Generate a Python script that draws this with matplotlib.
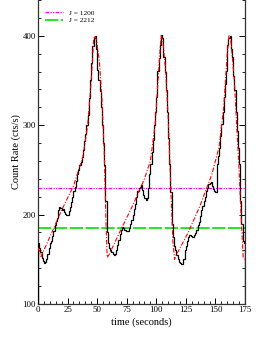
import numpy as np
import matplotlib
matplotlib.use("Agg")
import matplotlib.pyplot as plt

plt.rcParams['font.family'] = ['Liberation Serif', 'DejaVu Serif']

# observed light curve, 1 s bins starting at t = 0
obs_rate = [168, 163, 158, 152, 148, 146, 147, 150, 156, 163, 168,
            171, 176, 182, 188, 193, 196, 205, 208, 207, 205,
            206, 203, 201, 199, 200, 204, 208, 214, 220, 226,
            231, 238, 245, 250, 255, 259, 264, 272, 282, 290,
            300, 311, 330, 350, 370, 388, 398, 400, 385, 362,
            350, 338, 320, 300, 280, 255, 215, 180, 168, 163,
            160, 158, 156, 155, 156, 160, 166, 172, 178, 183,
            186, 185, 183, 182, 182, 182, 185, 190, 194, 200,
            206, 212, 220, 226, 230, 231, 233, 228, 222, 218,
            216, 218, 230, 245, 257, 270, 283, 300, 315, 331,
            361, 375, 390, 401, 398, 376, 360, 339, 315, 286,
            257, 225, 190, 175, 165, 160, 155, 150, 147, 146,
            145, 145, 150, 160, 165, 171, 175, 177, 176, 175,
            175, 177, 179, 183, 188, 192, 198, 205, 210, 215,
            220, 226, 230, 234, 235, 236, 232, 229, 226, 225,
            257, 265, 275, 288, 301, 315, 331, 346, 361, 390,
            398, 400, 385, 376, 355, 339, 315, 294, 275, 257,
            215, 190, 171, 168]

# model curve
model_t = [0, 2.5, 10, 20, 30, 38, 42, 45, 47, 48, 49.5, 52, 54, 56, 57.5, 58.5,
           60, 70, 80, 90, 95, 99, 102, 104, 105.5, 108, 110, 112, 114, 115.5,
           117, 127, 137, 147, 153, 157, 160, 161.5, 163, 166, 168, 170, 172, 173.5, 175]
model_rate = [163, 153, 175, 205, 232, 265, 300, 350, 395, 400, 395, 370, 330, 270, 190, 152,
              155, 183, 210, 240, 260, 300, 360, 400, 395, 360, 310, 240, 170, 150,
              155, 180, 210, 245, 275, 320, 380, 400, 395, 350, 300, 250, 190, 152, 150]

level_1200 = 230
level_2212 = 185

fig = plt.figure(figsize=(2.65, 3.43), dpi=100)
ax = fig.add_axes([0.1434, 0.1137, 0.7811, 0.8863])

t_edges = np.arange(len(obs_rate) + 1)
ax.stairs(obs_rate, t_edges, color='black', lw=0.9, zorder=3)
ax.plot(model_t, model_rate, color='red', lw=0.8, ls=(0, (4, 1.5, 1, 1.5)), zorder=4)

ax.axhline(level_1200, color='magenta', lw=0.9, ls=(0, (3, 1, 1, 1, 1, 1)),
           label='J = 1200', zorder=2)
ax.axhline(level_2212, color='#00e000', lw=1.2, ls=(0, (8, 1.5)),
           label='J = 2212', zorder=2)

ax.set_xlim(0, 175)
ax.set_ylim(100, 440)
ax.set_xticks(np.arange(0, 176, 25))
ax.set_xticks(np.arange(0, 176, 5), minor=True)
ax.set_yticks([100, 200, 300, 400])
ax.set_yticks(np.arange(100, 441, 20), minor=True)
ax.tick_params(which='both', direction='in', right=True, labelsize=6.3, pad=1.5)
ax.tick_params(which='major', length=4, width=0.7)
ax.tick_params(which='minor', length=2, width=0.6)
for s in ax.spines.values():
    s.set_linewidth(0.9)
    s.set_color('#333333')
ax.spines['top'].set_visible(False)

ax.set_xlabel('time (seconds)', fontsize=7.5, labelpad=2.5)
ax.set_ylabel('Count Rate (cts/s)', fontsize=7.5, labelpad=1)

ax.legend(loc='upper left', bbox_to_anchor=(0.0, 0.99), frameon=False, fontsize=5.3,
          handlelength=2.5, handletextpad=0.8, labelspacing=0.2)

fig.savefig('out.png', dpi=100)
